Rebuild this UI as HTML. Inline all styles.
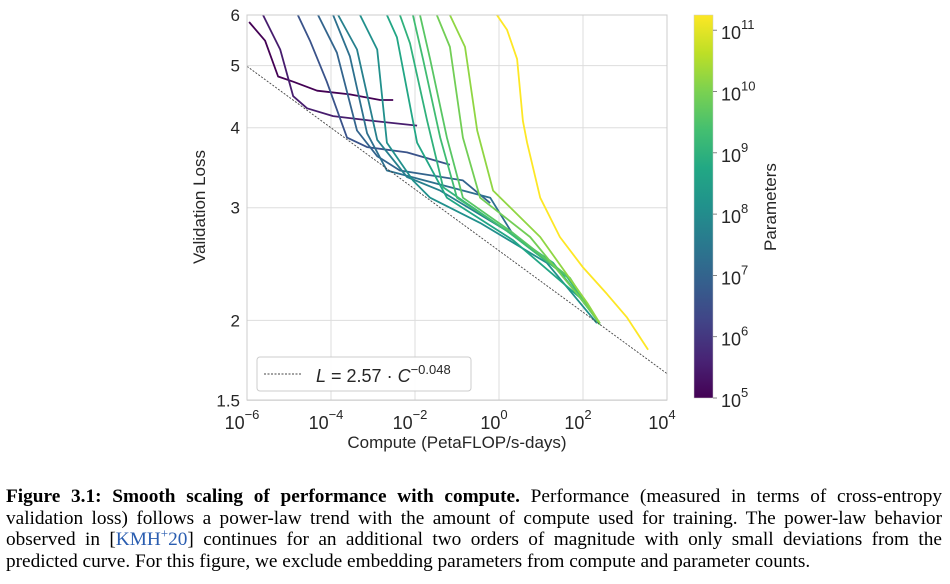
<!DOCTYPE html>
<html><head><meta charset="utf-8">
<style>
body{margin:0;background:#fff;width:950px;height:584px;overflow:hidden;position:relative;}
svg text{font-family:"Liberation Sans","DejaVu Sans",sans-serif;fill:#262626;}
#caption{position:absolute;left:6px;top:486px;width:936px;font-family:"Liberation Serif",serif;font-size:19.3px;line-height:21.5px;color:#000;white-space:nowrap;}
#caption .j{display:block;text-align:justify;text-align-last:justify;}
#caption .l{display:block;text-align:left;}
#caption a{color:#2a5db0;text-decoration:none;}
</style></head><body>
<svg id="chart" width="950" height="470" style="position:absolute;left:0;top:0">
<defs>
<linearGradient id="vir" x1="0" y1="1" x2="0" y2="0">
<stop offset="0" stop-color="#440154"/><stop offset="0.1" stop-color="#482475"/><stop offset="0.2" stop-color="#414487"/><stop offset="0.3" stop-color="#355f8d"/><stop offset="0.4" stop-color="#2a788e"/><stop offset="0.5" stop-color="#21918c"/><stop offset="0.6" stop-color="#22a884"/><stop offset="0.7" stop-color="#44bf70"/><stop offset="0.8" stop-color="#7ad151"/><stop offset="0.9" stop-color="#bddf26"/><stop offset="1" stop-color="#fde725"/>
</linearGradient>
<clipPath id="clip"><rect x="247" y="15" width="420" height="385"/></clipPath>
</defs>
<g id="grid"></g>
<g id="curves" clip-path="url(#clip)"></g>
<rect x="247" y="15" width="420" height="385" fill="none" stroke="#cccccc" stroke-width="1"/>
<g id="ticks"></g>
<text x="205" y="207" font-size="17" text-anchor="middle" transform="rotate(-90 205 207)">Validation Loss</text>
<text x="457" y="448" font-size="17" text-anchor="middle">Compute (PetaFLOP/s-days)</text>
<g>
<rect x="257" y="357" width="214" height="34" rx="3" fill="#fff" fill-opacity="0.9" stroke="#cccccc"/>
<line x1="264" y1="374" x2="302" y2="374" stroke="#444" stroke-width="1" stroke-dasharray="2,1.5"/>
<text x="316" y="382" font-size="18"><tspan font-style="italic">L</tspan> = 2.57 · <tspan font-style="italic">C</tspan><tspan dy="-8" font-size="13">−0.048</tspan></text>
</g>
<rect x="694" y="15" width="19" height="383" fill="url(#vir)" stroke="#cccccc" stroke-width="0.5"/>
<g id="cbticks"></g>
<text x="776" y="207" font-size="17" text-anchor="middle" transform="rotate(-90 776 207)">Parameters</text>
</svg>
<div id="caption"><span class="j"><b>Figure 3.1: Smooth scaling of performance with compute.</b> Performance (measured in terms of cross-entropy</span><span class="j">validation loss) follows a power-law trend with the amount of compute used for training. The power-law behavior</span><span class="j">observed in [<a>KMH<sup style="font-size:13px;line-height:0">+</sup>20</a>] continues for an additional two orders of magnitude with only small deviations from the</span><span class="l">predicted curve. For this figure, we exclude embedding parameters from compute and parameter counts.</span></div>
<script>
const xTicks=[-6,-4,-2,0,2,4];
const yTicks=[6,5,4,3,2,1.5];
const cbTicks=[5,6,7,8,9,10,11];
const fitA=2.57, fitB=0.048;
const modelLogN=[5.0,5.5,6.6,7.0,7.3,7.7,8.1,8.7,9.0,9.3,9.6,9.9,10.2,11.24];
const curveLogC=[
[-5.95,-5.57,-5.26,-4.90,-4.33,-3.55,-2.83,-2.52],
[-5.62,-5.21,-4.90,-4.57,-3.95,-3.0,-1.95],
[-4.79,-4.5,-4.10,-3.62,-3.14,-2.19,-1.17],
[-4.31,-3.86,-3.38,-2.90,-2.36,-0.86,-0.21],
[-3.95,-3.55,-3.14,-2.67,-0.21,0.31],
[-3.83,-3.38,-2.90,-2.19,-1.40,0.19,1.62],
[-3.31,-2.90,-2.67,-2.05,-1.64,-0.45,1.14,2.33],
[-2.67,-2.43,-1.95,-1.24,0.33,1.93,2.40],
[-2.36,-2.12,-1.71,-1.33,-0.29,1.29,2.40],
[-2.05,-1.81,-1.40,-1.0,0.19,1.62,2.40],
[-1.88,-1.64,-1.24,-0.86,0.33,1.69,2.40],
[-1.48,-1.17,-0.86,-0.45,0.74,1.93,2.40],
[-1.17,-0.81,-0.52,-0.14,0.98,2.10,2.40],
[-0.05,0.19,0.43,0.57,0.67,0.98,1.45,2.0,2.57,3.05,3.43,3.55]];
const curveLoss=[
[5.85,5.47,4.81,4.72,4.57,4.51,4.42,4.42],
[6.0,5.30,4.48,4.29,4.17,4.10,4.03],
[6.0,5.47,4.72,3.86,3.73,3.66,3.50],
[6.0,5.24,3.96,3.61,3.43,3.31,3.05],
[6.0,5.17,3.92,3.43,3.11,2.74],
[6.0,5.30,3.83,3.35,3.19,2.76,2.34],
[6.0,5.30,3.79,3.31,3.11,2.84,2.46,1.98],
[6.0,5.54,3.79,3.11,2.67,2.17,1.98],
[6.0,5.42,4.10,3.23,2.90,2.46,1.98],
[6.0,5.12,3.86,3.11,2.76,2.34,1.97],
[6.0,5.12,3.86,3.11,2.74,2.33,1.97],
[6.0,5.35,3.86,3.11,2.70,2.17,1.98],
[6.0,5.35,3.96,3.19,2.70,2.13,1.98],
[6.0,5.69,5.12,4.10,3.79,3.11,2.70,2.42,2.20,2.02,1.85,1.80]];

const NS='http://www.w3.org/2000/svg';
const X=lc=>247+(lc+6)*42;
const Y=l=>15+(Math.log(6)-Math.log(l))*278;
const CB=ln=>398-(ln-5)*61.3;
const vir=['#440154','#482475','#414487','#355f8d','#2a788e','#21918c','#22a884','#44bf70','#7ad151','#bddf26','#fde725'];
function hex(h){return [1,3,5].map(i=>parseInt(h.substr(i,2),16));}
function col(ln){let t=Math.max(0,Math.min(1,(ln-5)/6.24))*10;let i=Math.min(9,Math.floor(t));let f=t-i;let a=hex(vir[i]),b=hex(vir[i+1]);return 'rgb('+a.map((v,k)=>Math.round(v+(b[k]-v)*f)).join(',')+')';}
function mk(tag,attrs,parent){const e=document.createElementNS(NS,tag);for(const k in attrs)e.setAttribute(k,attrs[k]);parent.appendChild(e);return e;}
const grid=document.getElementById('grid'),ticks=document.getElementById('ticks'),curves=document.getElementById('curves'),cbt=document.getElementById('cbticks');
xTicks.forEach(t=>{
 const g=mk('line',{x1:X(t),x2:X(t),y1:15,y2:400,stroke:'#dddddd','stroke-width':1},grid);
 
 
 const tx=mk('text',{x:X(t)-5,y:429,'font-size':18,'text-anchor':'middle'},ticks);
 
 
 tx.innerHTML='10<tspan dy="-10" font-size="13">'+(t<0?'−'+(-t):t)+'</tspan>';
});
yTicks.forEach(t=>{
 const g=mk('line',{x1:247,x2:667,y1:Y(t),y2:Y(t),stroke:'#dddddd','stroke-width':1},grid);
 
 
 const tx=mk('text',{x:240,y:Y(t)+6,'font-size':17,'text-anchor':'end'},ticks);
 
 
 tx.textContent=String(t);
});
cbTicks.forEach(t=>{
 const l=mk('line',{x1:713,x2:717,y1:CB(t),y2:CB(t),stroke:'#666','stroke-width':0.8},cbt);
 
 
 const tx=mk('text',{x:721,y:CB(t)+9,'font-size':18},cbt);
 
 
 tx.innerHTML='10<tspan dy="-10" font-size="13">'+t+'</tspan>';
});
curveLogC.forEach((xs,i)=>{
 const pts=xs.map((x,j)=>X(x).toFixed(1)+','+Y(curveLoss[i][j]).toFixed(1)).join(' ');
 const p=mk('polyline',{points:pts,fill:'none',stroke:col(modelLogN[i]),'stroke-width':1.8,'stroke-linejoin':'round'},curves);
 
 
});
const fit=mk('line',{x1:X(-6),y1:Y(fitA*Math.pow(10,6*fitB)),x2:X(4),y2:Y(fitA*Math.pow(10,-4*fitB)),stroke:'#444','stroke-width':0.9,'stroke-dasharray':'2,1.5'},curves);


</script>
</body></html>
